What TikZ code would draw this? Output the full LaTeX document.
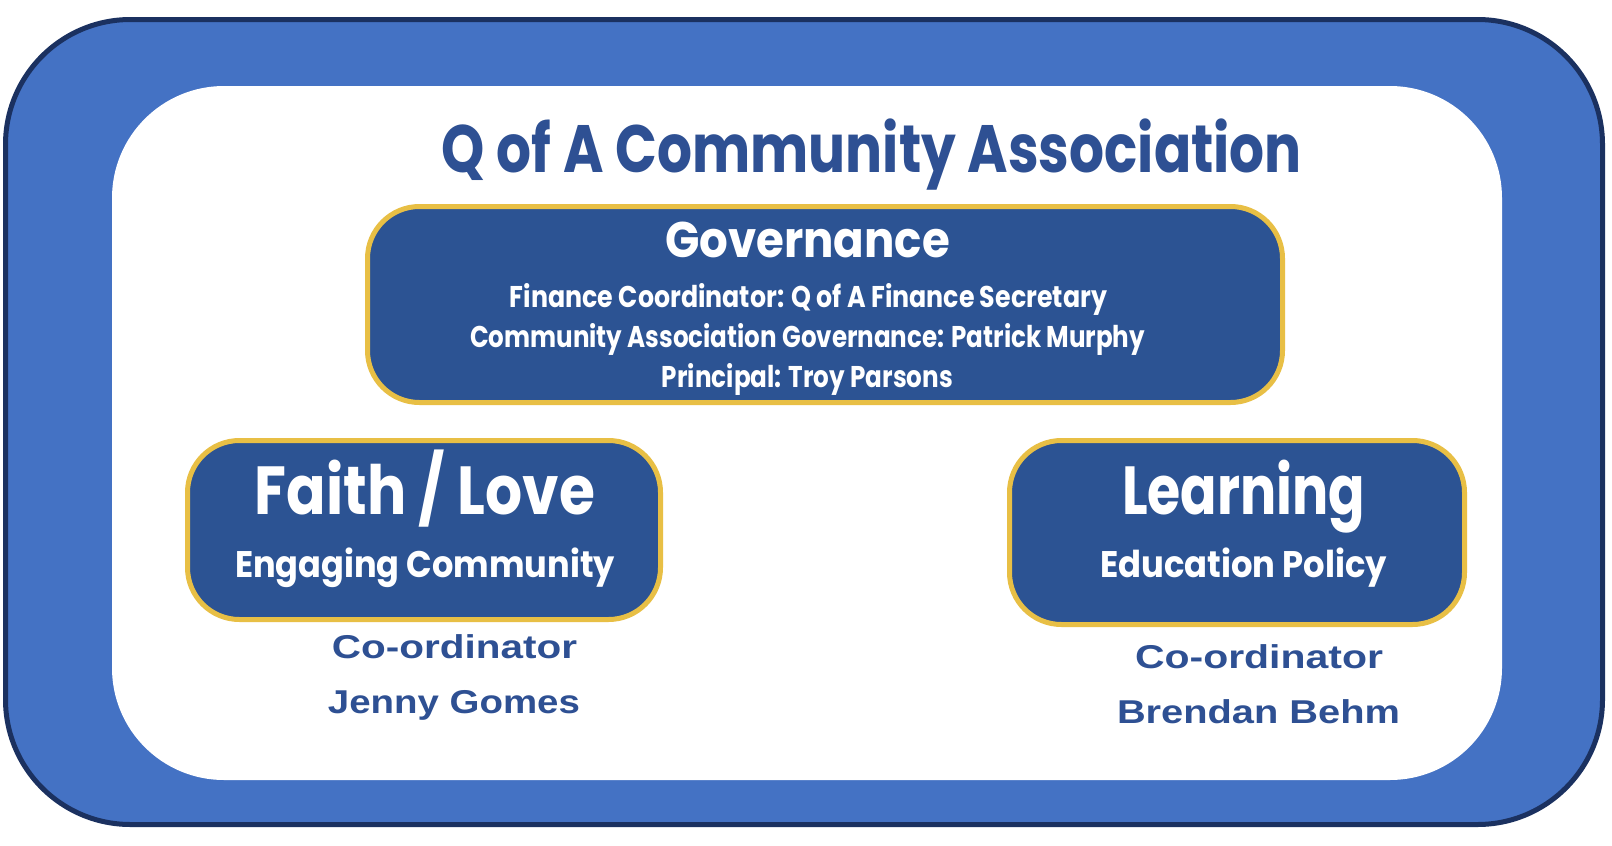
\documentclass[tikz,border=0pt]{standalone}
\usepackage{fontspec}
\usepackage{graphicx}
\setmainfont{Liberation Sans}
\newfontfamily\futura{Poppins}
\definecolor{frameblue}{HTML}{4472C4}
\definecolor{framenavy}{HTML}{1B3160}
\definecolor{boxblue}{HTML}{2C5393}
\definecolor{boxgold}{HTML}{E8BF45}
\definecolor{textblue}{HTML}{2E5093}
\newcommand{\fitw}[2]{\resizebox{#1}{\height}{#2}}
\newcommand{\fsz}[1]{\fontsize{#1}{#1}\selectfont}
\tikzset{
  bluebox/.style={draw=boxgold, fill=boxblue, line width=5pt, rounded corners=52pt, inner sep=0pt},
  boxtext/.style={anchor=base, inner sep=0pt, text=white, font=\futura\bfseries},
  nametext/.style={anchor=base, inner sep=0pt, text=textblue, font=\bfseries\fsz{33}},
}
\begin{document}
\begin{tikzpicture}[x=1pt,y=-1pt]
    \useasboundingbox (0,0) rectangle (1612,846);
    \fill[white] (0,0) rectangle (1612,846);

    % frame
    \draw[line width=5pt, draw=framenavy, fill=frameblue, rounded corners=125pt] (5.5,19.5) rectangle (1602.5,824.5);
    \fill[white, rounded corners=112pt] (112,86) rectangle (1502,780);

    \node[anchor=base, inner sep=0pt, text=textblue, font=\futura\bfseries\fsz{67}] (title) at (872,172) {\fitw{860pt}{Q of A Community Association}};

    % governance
    \node[bluebox, minimum width=915pt, minimum height=196pt] (gov) at (825,304.5) {};
    \node[boxtext, font=\futura\bfseries\fsz{50}] (govhead) at (807.5,257) {\fitw{285pt}{Governance}};
    \node[boxtext, font=\futura\bfseries\fsz{30}] (govfin) at (808.5,307) {\fitw{597pt}{Finance Coordinator: Q of A Finance Secretary}};
    \node[boxtext, font=\futura\bfseries\fsz{30}] (govca) at (807.5,347) {\fitw{675pt}{Community Association Governance: Patrick Murphy}};
    \node[boxtext, font=\futura\bfseries\fsz{30}] (govprin) at (807.5,387) {\fitw{291pt}{Principal: Troy Parsons}};

    % faith / love
    \node[bluebox, minimum width=473pt, minimum height=179pt] (faith) at (424,530) {};
    \node[boxtext, font=\futura\bfseries\fsz{68}] (faithhead) at (425,514) {\fitw{340pt}{Faith / Love}};
    \node[boxtext, font=\futura\bfseries\fsz{37}] (faithsub) at (425,577) {\fitw{380pt}{Engaging Community}};
    \node[nametext] (faithrole) at (454.5,658) {\fitw{245pt}{Co-ordinator}};
    \node[nametext] (faithname) at (454,713) {\fitw{252pt}{Jenny Gomes}};

    % learning
    \node[bluebox, minimum width=455pt, minimum height=184pt] (learn) at (1237,532.5) {};
    \node[boxtext, font=\futura\bfseries\fsz{68}] (learnhead) at (1243.5,514) {\fitw{243pt}{Learning}};
    \node[boxtext, font=\futura\bfseries\fsz{37}] (learnsub) at (1243.5,577) {\fitw{287pt}{Education Policy}};
    \node[nametext] (learnrole) at (1259,668) {\fitw{248pt}{Co-ordinator}};
    \node[nametext] (learnname) at (1258.5,723) {\fitw{283pt}{Brendan Behm}};
\end{tikzpicture}
\end{document}
